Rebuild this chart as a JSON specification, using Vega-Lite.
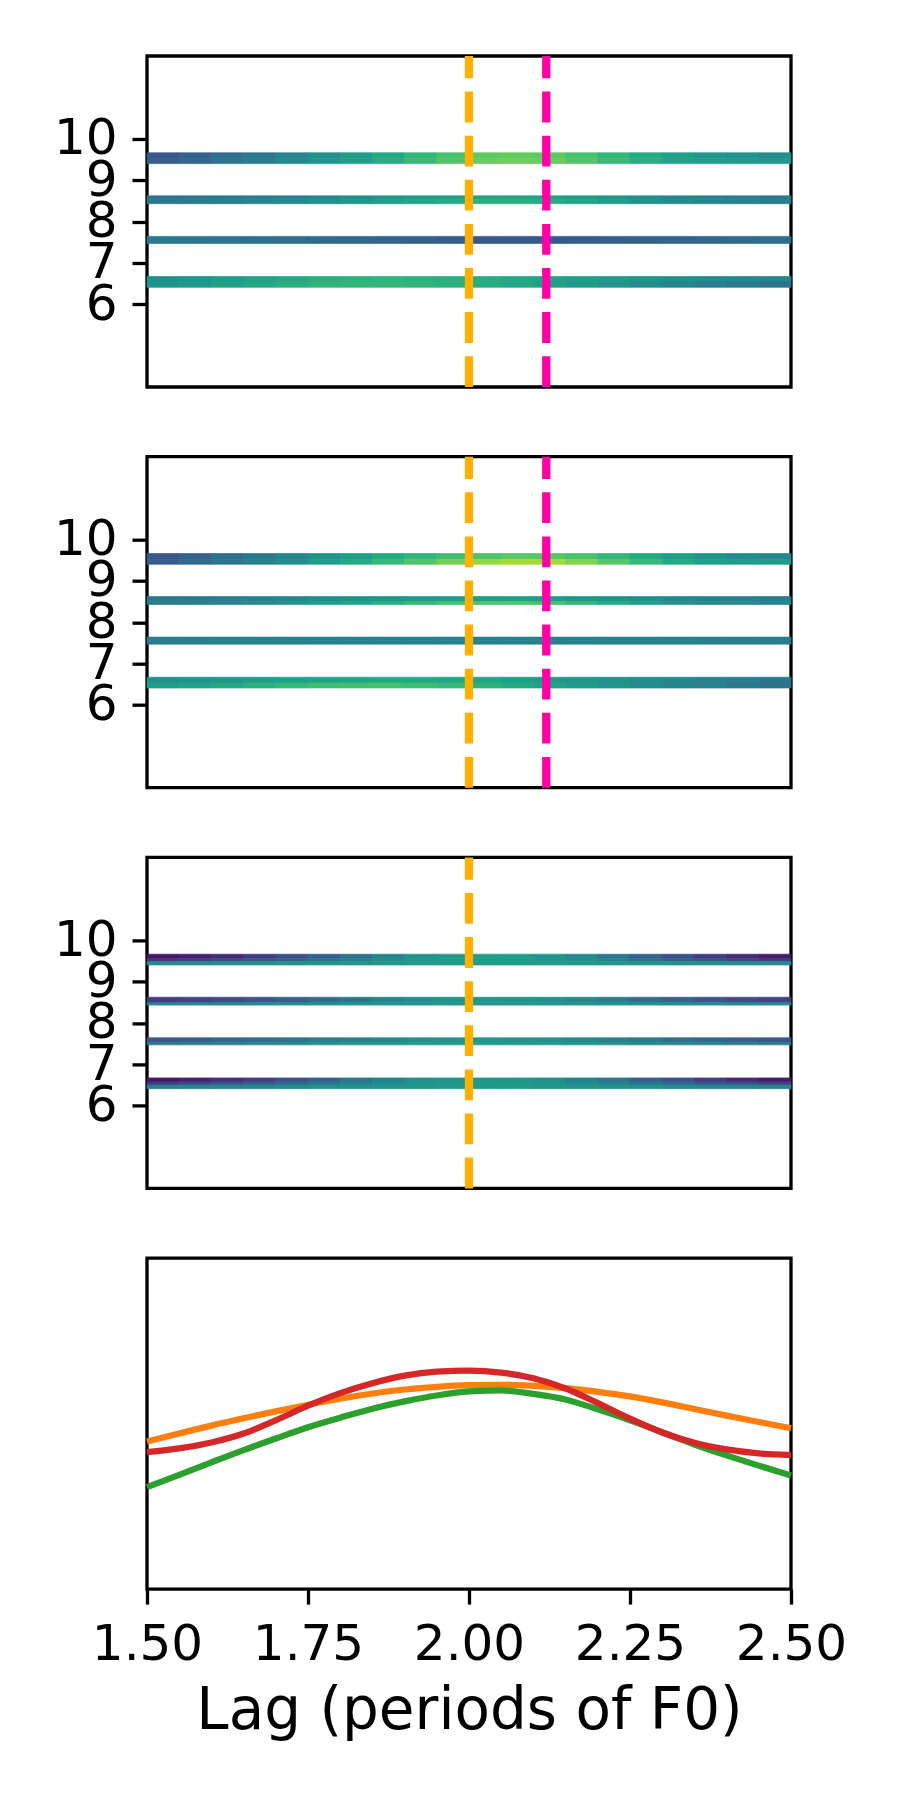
{
"$schema": "https://vega.github.io/schema/vega-lite/v6.json",
"padding": {"left": 51, "top": 50, "right": 5, "bottom": 5},
"background": "white",
"spacing": 69.7,
"bounds": "flush",
"config": {
 "font": "DejaVu Sans",
 "view": {"stroke": "black", "strokeWidth": 3.3},
 "axis": {"grid": false, "domain": false, "ticks": true, "tickSize": 15, "tickWidth": 3.3, "tickColor": "black",
  "labelFont": "DejaVu Sans", "labelFontSize": 50, "labelColor": "black", "labelPadding": 15, "labelFlush": false, "labelOverlap": false,
  "titleFont": "DejaVu Sans", "titleFontSize": 58, "titleFontWeight": "normal", "titleColor": "black", "titlePadding": 13}
},
"datasets": {
 "p1": [
  {"lo":9.53,"hi":9.66,"c00":0.27,"c01":0.31,"c02":0.36,"c03":0.40,"c04":0.45,"c05":0.50,"c06":0.55,"c07":0.60,"c08":0.66,"c09":0.71,"c10":0.75,"c11":0.76,"c12":0.75,"c13":0.71,"c14":0.66,"c15":0.61,"c16":0.56,"c17":0.53,"c18":0.51,"c19":0.49},
  {"lo":9.40,"hi":9.53,"c00":0.29,"c01":0.33,"c02":0.38,"c03":0.42,"c04":0.47,"c05":0.52,"c06":0.57,"c07":0.62,"c08":0.68,"c09":0.73,"c10":0.77,"c11":0.78,"c12":0.77,"c13":0.73,"c14":0.68,"c15":0.63,"c16":0.58,"c17":0.56,"c18":0.54,"c19":0.53},
  {"lo":8.525,"hi":8.62,"c00":0.38,"c01":0.39,"c02":0.40,"c03":0.42,"c04":0.44,"c05":0.46,"c06":0.49,"c07":0.52,"c08":0.55,"c09":0.57,"c10":0.58,"c11":0.58,"c12":0.57,"c13":0.55,"c14":0.52,"c15":0.49,"c16":0.46,"c17":0.44,"c18":0.42,"c19":0.41},
  {"lo":8.43,"hi":8.525,"c00":0.40,"c01":0.41,"c02":0.43,"c03":0.45,"c04":0.47,"c05":0.50,"c06":0.53,"c07":0.56,"c08":0.59,"c09":0.62,"c10":0.64,"c11":0.64,"c12":0.62,"c13":0.59,"c14":0.55,"c15":0.51,"c16":0.48,"c17":0.45,"c18":0.43,"c19":0.42},
  {"lo":7.555,"hi":7.64,"c00":0.40,"c01":0.39,"c02":0.38,"c03":0.37,"c04":0.36,"c05":0.34,"c06":0.33,"c07":0.31,"c08":0.30,"c09":0.28,"c10":0.27,"c11":0.27,"c12":0.27,"c13":0.28,"c14":0.29,"c15":0.30,"c16":0.31,"c17":0.32,"c18":0.34,"c19":0.35},
  {"lo":7.47,"hi":7.555,"c00":0.41,"c01":0.40,"c02":0.39,"c03":0.38,"c04":0.37,"c05":0.35,"c06":0.34,"c07":0.32,"c08":0.31,"c09":0.29,"c10":0.28,"c11":0.28,"c12":0.28,"c13":0.29,"c14":0.30,"c15":0.31,"c16":0.32,"c17":0.33,"c18":0.35,"c19":0.36},
  {"lo":6.54,"hi":6.67,"c00":0.50,"c01":0.52,"c02":0.55,"c03":0.58,"c04":0.61,"c05":0.63,"c06":0.64,"c07":0.65,"c08":0.64,"c09":0.63,"c10":0.62,"c11":0.60,"c12":0.58,"c13":0.56,"c14":0.54,"c15":0.52,"c16":0.50,"c17":0.48,"c18":0.47,"c19":0.46},
  {"lo":6.41,"hi":6.54,"c00":0.52,"c01":0.54,"c02":0.57,"c03":0.60,"c04":0.63,"c05":0.65,"c06":0.66,"c07":0.66,"c08":0.65,"c09":0.64,"c10":0.62,"c11":0.60,"c12":0.57,"c13":0.54,"c14":0.51,"c15":0.48,"c16":0.45,"c17":0.42,"c18":0.40,"c19":0.38}
 ],
 "p2": [
  {"lo":9.52,"hi":9.66,"c00":0.27,"c01":0.31,"c02":0.36,"c03":0.41,"c04":0.46,"c05":0.51,"c06":0.56,"c07":0.61,"c08":0.65,"c09":0.69,"c10":0.72,"c11":0.74,"c12":0.74,"c13":0.71,"c14":0.66,"c15":0.61,"c16":0.56,"c17":0.51,"c18":0.48,"c19":0.46},
  {"lo":9.40,"hi":9.52,"c00":0.30,"c01":0.34,"c02":0.39,"c03":0.44,"c04":0.49,"c05":0.55,"c06":0.61,"c07":0.67,"c08":0.73,"c09":0.79,"c10":0.84,"c11":0.87,"c12":0.86,"c13":0.81,"c14":0.74,"c15":0.67,"c16":0.61,"c17":0.57,"c18":0.55,"c19":0.54},
  {"lo":8.50,"hi":8.62,"c00":0.40,"c01":0.41,"c02":0.42,"c03":0.44,"c04":0.46,"c05":0.48,"c06":0.50,"c07":0.52,"c08":0.54,"c09":0.55,"c10":0.56,"c11":0.56,"c12":0.55,"c13":0.53,"c14":0.51,"c15":0.49,"c16":0.47,"c17":0.45,"c18":0.44,"c19":0.43},
  {"lo":8.43,"hi":8.50,"c00":0.42,"c01":0.43,"c02":0.45,"c03":0.48,"c04":0.51,"c05":0.55,"c06":0.59,"c07":0.63,"c08":0.67,"c09":0.70,"c10":0.72,"c11":0.72,"c12":0.70,"c13":0.66,"c14":0.61,"c15":0.56,"c16":0.52,"c17":0.49,"c18":0.47,"c19":0.46},
  {"lo":7.555,"hi":7.64,"c00":0.42,"c01":0.42,"c02":0.42,"c03":0.43,"c04":0.43,"c05":0.43,"c06":0.43,"c07":0.43,"c08":0.43,"c09":0.43,"c10":0.43,"c11":0.43,"c12":0.43,"c13":0.43,"c14":0.43,"c15":0.43,"c16":0.42,"c17":0.42,"c18":0.42,"c19":0.42},
  {"lo":7.47,"hi":7.555,"c00":0.42,"c01":0.42,"c02":0.43,"c03":0.43,"c04":0.43,"c05":0.44,"c06":0.44,"c07":0.44,"c08":0.44,"c09":0.44,"c10":0.44,"c11":0.44,"c12":0.44,"c13":0.44,"c14":0.43,"c15":0.43,"c16":0.43,"c17":0.42,"c18":0.42,"c19":0.42},
  {"lo":6.53,"hi":6.67,"c00":0.50,"c01":0.51,"c02":0.53,"c03":0.55,"c04":0.57,"c05":0.58,"c06":0.59,"c07":0.60,"c08":0.60,"c09":0.59,"c10":0.58,"c11":0.56,"c12":0.54,"c13":0.52,"c14":0.50,"c15":0.48,"c16":0.46,"c17":0.44,"c18":0.42,"c19":0.40},
  {"lo":6.41,"hi":6.53,"c00":0.56,"c01":0.58,"c02":0.61,"c03":0.64,"c04":0.67,"c05":0.69,"c06":0.70,"c07":0.70,"c08":0.69,"c09":0.67,"c10":0.64,"c11":0.61,"c12":0.58,"c13":0.55,"c14":0.52,"c15":0.49,"c16":0.46,"c17":0.43,"c18":0.40,"c19":0.38}
 ],
 "p3": [
  {"lo":9.55,"hi":9.66,"c00":0.05,"c01":0.08,"c02":0.12,"c03":0.17,"c04":0.23,"c05":0.30,"c06":0.37,"c07":0.44,"c08":0.50,"c09":0.54,"c10":0.56,"c11":0.55,"c12":0.52,"c13":0.46,"c14":0.39,"c15":0.31,"c16":0.24,"c17":0.17,"c18":0.11,"c19":0.07},
  {"lo":9.48,"hi":9.55,"c00":0.15,"c01":0.18,"c02":0.22,"c03":0.27,"c04":0.32,"c05":0.38,"c06":0.43,"c07":0.48,"c08":0.52,"c09":0.55,"c10":0.56,"c11":0.55,"c12":0.53,"c13":0.49,"c14":0.44,"c15":0.38,"c16":0.32,"c17":0.26,"c18":0.21,"c19":0.17},
  {"lo":9.40,"hi":9.48,"c00":0.48,"c01":0.48,"c02":0.49,"c03":0.50,"c04":0.51,"c05":0.52,"c06":0.53,"c07":0.54,"c08":0.55,"c09":0.55,"c10":0.56,"c11":0.55,"c12":0.55,"c13":0.54,"c14":0.53,"c15":0.52,"c16":0.51,"c17":0.50,"c18":0.49,"c19":0.48},
  {"lo":8.49,"hi":8.62,"c00":0.17,"c01":0.19,"c02":0.22,"c03":0.26,"c04":0.30,"c05":0.35,"c06":0.40,"c07":0.45,"c08":0.49,"c09":0.52,"c10":0.53,"c11":0.52,"c12":0.50,"c13":0.46,"c14":0.41,"c15":0.36,"c16":0.31,"c17":0.26,"c18":0.22,"c19":0.19},
  {"lo":8.43,"hi":8.49,"c00":0.46,"c01":0.46,"c02":0.47,"c03":0.48,"c04":0.49,"c05":0.50,"c06":0.51,"c07":0.52,"c08":0.53,"c09":0.53,"c10":0.54,"c11":0.53,"c12":0.53,"c13":0.52,"c14":0.51,"c15":0.50,"c16":0.49,"c17":0.48,"c18":0.47,"c19":0.46},
  {"lo":7.53,"hi":7.64,"c00":0.27,"c01":0.29,"c02":0.32,"c03":0.35,"c04":0.38,"c05":0.41,"c06":0.44,"c07":0.47,"c08":0.50,"c09":0.52,"c10":0.53,"c11":0.52,"c12":0.50,"c13":0.47,"c14":0.44,"c15":0.41,"c16":0.37,"c17":0.33,"c18":0.30,"c19":0.27},
  {"lo":7.47,"hi":7.53,"c00":0.40,"c01":0.41,"c02":0.43,"c03":0.45,"c04":0.47,"c05":0.49,"c06":0.51,"c07":0.52,"c08":0.53,"c09":0.53,"c10":0.54,"c11":0.53,"c12":0.52,"c13":0.51,"c14":0.49,"c15":0.47,"c16":0.45,"c17":0.43,"c18":0.41,"c19":0.40},
  {"lo":6.57,"hi":6.67,"c00":0.06,"c01":0.09,"c02":0.13,"c03":0.18,"c04":0.24,"c05":0.31,"c06":0.38,"c07":0.44,"c08":0.49,"c09":0.52,"c10":0.53,"c11":0.52,"c12":0.49,"c13":0.44,"c14":0.38,"c15":0.31,"c16":0.24,"c17":0.17,"c18":0.11,"c19":0.07},
  {"lo":6.50,"hi":6.57,"c00":0.17,"c01":0.20,"c02":0.24,"c03":0.29,"c04":0.34,"c05":0.39,"c06":0.44,"c07":0.48,"c08":0.51,"c09":0.53,"c10":0.54,"c11":0.53,"c12":0.51,"c13":0.48,"c14":0.43,"c15":0.38,"c16":0.32,"c17":0.27,"c18":0.22,"c19":0.18},
  {"lo":6.41,"hi":6.50,"c00":0.44,"c01":0.45,"c02":0.46,"c03":0.47,"c04":0.48,"c05":0.50,"c06":0.51,"c07":0.52,"c08":0.53,"c09":0.54,"c10":0.54,"c11":0.54,"c12":0.53,"c13":0.52,"c14":0.51,"c15":0.50,"c16":0.48,"c17":0.47,"c18":0.46,"c19":0.45}
 ],
 "ref12": [{"lag": 2.0, "kind": "a"}, {"lag": 2.12, "kind": "b"}],
 "ref3": [{"lag": 2.0, "kind": "a"}],
 "curves": [
  {"s":"C1","lag":1.50,"r":0.446},{"s":"C1","lag":1.55,"r":0.470},{"s":"C1","lag":1.60,"r":0.494},{"s":"C1","lag":1.65,"r":0.516},{"s":"C1","lag":1.70,"r":0.537},{"s":"C1","lag":1.75,"r":0.557},{"s":"C1","lag":1.80,"r":0.575},{"s":"C1","lag":1.85,"r":0.591},{"s":"C1","lag":1.90,"r":0.603},{"s":"C1","lag":1.95,"r":0.611},{"s":"C1","lag":2.00,"r":0.616},{"s":"C1","lag":2.05,"r":0.617},{"s":"C1","lag":2.10,"r":0.614},{"s":"C1","lag":2.15,"r":0.607},{"s":"C1","lag":2.20,"r":0.596},{"s":"C1","lag":2.25,"r":0.582},{"s":"C1","lag":2.30,"r":0.564},{"s":"C1","lag":2.35,"r":0.544},{"s":"C1","lag":2.40,"r":0.524},{"s":"C1","lag":2.45,"r":0.505},{"s":"C1","lag":2.50,"r":0.486},
  {"s":"C2","lag":1.50,"r":0.308},{"s":"C2","lag":1.55,"r":0.345},{"s":"C2","lag":1.60,"r":0.383},{"s":"C2","lag":1.65,"r":0.420},{"s":"C2","lag":1.70,"r":0.455},{"s":"C2","lag":1.75,"r":0.489},{"s":"C2","lag":1.80,"r":0.518},{"s":"C2","lag":1.85,"r":0.545},{"s":"C2","lag":1.90,"r":0.567},{"s":"C2","lag":1.95,"r":0.585},{"s":"C2","lag":2.00,"r":0.597},{"s":"C2","lag":2.05,"r":0.600},{"s":"C2","lag":2.10,"r":0.590},{"s":"C2","lag":2.15,"r":0.573},{"s":"C2","lag":2.20,"r":0.543},{"s":"C2","lag":2.25,"r":0.510},{"s":"C2","lag":2.30,"r":0.474},{"s":"C2","lag":2.35,"r":0.437},{"s":"C2","lag":2.40,"r":0.404},{"s":"C2","lag":2.45,"r":0.373},{"s":"C2","lag":2.50,"r":0.343},
  {"s":"C3","lag":1.50,"r":0.414},{"s":"C3","lag":1.55,"r":0.425},{"s":"C3","lag":1.60,"r":0.443},{"s":"C3","lag":1.65,"r":0.470},{"s":"C3","lag":1.70,"r":0.510},{"s":"C3","lag":1.75,"r":0.554},{"s":"C3","lag":1.80,"r":0.592},{"s":"C3","lag":1.85,"r":0.622},{"s":"C3","lag":1.90,"r":0.645},{"s":"C3","lag":1.95,"r":0.657},{"s":"C3","lag":2.00,"r":0.660},{"s":"C3","lag":2.05,"r":0.654},{"s":"C3","lag":2.10,"r":0.637},{"s":"C3","lag":2.15,"r":0.606},{"s":"C3","lag":2.20,"r":0.562},{"s":"C3","lag":2.25,"r":0.515},{"s":"C3","lag":2.30,"r":0.473},{"s":"C3","lag":2.35,"r":0.442},{"s":"C3","lag":2.40,"r":0.422},{"s":"C3","lag":2.45,"r":0.410},{"s":"C3","lag":2.50,"r":0.405}
 ]
},
"vconcat": [
 {"width": 644, "height": 331,
  "layer": [
   {"data": {"name": "p1"},
    "transform": [{"fold": ["c00","c01","c02","c03","c04","c05","c06","c07","c08","c09","c10","c11","c12","c13","c14","c15","c16","c17","c18","c19"], "as": ["col","v"]}],
    "mark": {"type": "rect", "strokeWidth": 0.7},
    "encoding": {
     "x": {"field": "col", "type": "ordinal", "scale": {"paddingInner": 0, "paddingOuter": 0}, "axis": null},
     "y": {"field": "lo", "type": "quantitative", "scale": {"domain": [4, 12], "nice": false, "zero": false}, "axis": {"values": [6,7,8,9,10], "title": null}},
     "y2": {"field": "hi"},
     "color": {"field": "v", "type": "quantitative", "scale": {"scheme": "viridis", "domain": [0, 1]}, "legend": null},
     "stroke": {"field": "v", "type": "quantitative", "scale": {"scheme": "viridis", "domain": [0, 1]}, "legend": null}
    }},
   {"data": {"name": "ref12"},
    "mark": {"type": "rule", "strokeWidth": 8.3, "strokeDash": [30.8, 13.3]},
    "encoding": {
     "x": {"field": "lag", "type": "quantitative", "scale": {"domain": [1.5, 2.5], "nice": false, "zero": false}, "axis": null},
     "y": {"datum": 4}, "y2": {"datum": 12},
     "color": {"field": "kind", "type": "nominal", "scale": {"domain": ["a","b"], "range": ["#ffb000","#ff00a8"]}, "legend": null}
    }}
  ],
  "resolve": {"scale": {"x": "independent", "color": "independent"}}
 },
 {"width": 644, "height": 331,
  "layer": [
   {"data": {"name": "p2"},
    "transform": [{"fold": ["c00","c01","c02","c03","c04","c05","c06","c07","c08","c09","c10","c11","c12","c13","c14","c15","c16","c17","c18","c19"], "as": ["col","v"]}],
    "mark": {"type": "rect", "strokeWidth": 0.7},
    "encoding": {
     "x": {"field": "col", "type": "ordinal", "scale": {"paddingInner": 0, "paddingOuter": 0}, "axis": null},
     "y": {"field": "lo", "type": "quantitative", "scale": {"domain": [4, 12], "nice": false, "zero": false}, "axis": {"values": [6,7,8,9,10], "title": null}},
     "y2": {"field": "hi"},
     "color": {"field": "v", "type": "quantitative", "scale": {"scheme": "viridis", "domain": [0, 1]}, "legend": null},
     "stroke": {"field": "v", "type": "quantitative", "scale": {"scheme": "viridis", "domain": [0, 1]}, "legend": null}
    }},
   {"data": {"name": "ref12"},
    "mark": {"type": "rule", "strokeWidth": 8.3, "strokeDash": [30.8, 13.3]},
    "encoding": {
     "x": {"field": "lag", "type": "quantitative", "scale": {"domain": [1.5, 2.5], "nice": false, "zero": false}, "axis": null},
     "y": {"datum": 4}, "y2": {"datum": 12},
     "color": {"field": "kind", "type": "nominal", "scale": {"domain": ["a","b"], "range": ["#ffb000","#ff00a8"]}, "legend": null}
    }}
  ],
  "resolve": {"scale": {"x": "independent", "color": "independent"}}
 },
 {"width": 644, "height": 331,
  "layer": [
   {"data": {"name": "p3"},
    "transform": [{"fold": ["c00","c01","c02","c03","c04","c05","c06","c07","c08","c09","c10","c11","c12","c13","c14","c15","c16","c17","c18","c19"], "as": ["col","v"]}],
    "mark": {"type": "rect", "strokeWidth": 0.7},
    "encoding": {
     "x": {"field": "col", "type": "ordinal", "scale": {"paddingInner": 0, "paddingOuter": 0}, "axis": null},
     "y": {"field": "lo", "type": "quantitative", "scale": {"domain": [4, 12], "nice": false, "zero": false}, "axis": {"values": [6,7,8,9,10], "title": null}},
     "y2": {"field": "hi"},
     "color": {"field": "v", "type": "quantitative", "scale": {"scheme": "viridis", "domain": [0, 1]}, "legend": null},
     "stroke": {"field": "v", "type": "quantitative", "scale": {"scheme": "viridis", "domain": [0, 1]}, "legend": null}
    }},
   {"data": {"name": "ref3"},
    "mark": {"type": "rule", "strokeWidth": 8.3, "strokeDash": [30.8, 13.3]},
    "encoding": {
     "x": {"field": "lag", "type": "quantitative", "scale": {"domain": [1.5, 2.5], "nice": false, "zero": false}, "axis": null},
     "y": {"datum": 4}, "y2": {"datum": 12},
     "color": {"field": "kind", "type": "nominal", "scale": {"domain": ["a","b"], "range": ["#ffb000","#ff00a8"]}, "legend": null}
    }}
  ],
  "resolve": {"scale": {"x": "independent", "color": "independent"}}
 },
 {"width": 644, "height": 331,
  "data": {"name": "curves"},
  "mark": {"type": "line", "strokeWidth": 6.25, "interpolate": "monotone"},
  "encoding": {
   "x": {"field": "lag", "type": "quantitative", "scale": {"domain": [1.5, 2.5], "nice": false, "zero": false},
         "axis": {"values": [1.5, 1.75, 2, 2.25, 2.5], "format": ".2f", "title": "Lag (periods of F0)"}},
   "y": {"field": "r", "type": "quantitative", "scale": {"domain": [0, 1], "nice": false}, "axis": null},
   "color": {"field": "s", "type": "nominal", "scale": {"domain": ["C1","C2","C3"], "range": ["#ff7f0e","#2ca02c","#d62728"]}, "legend": null}
  }
 }
]
}
